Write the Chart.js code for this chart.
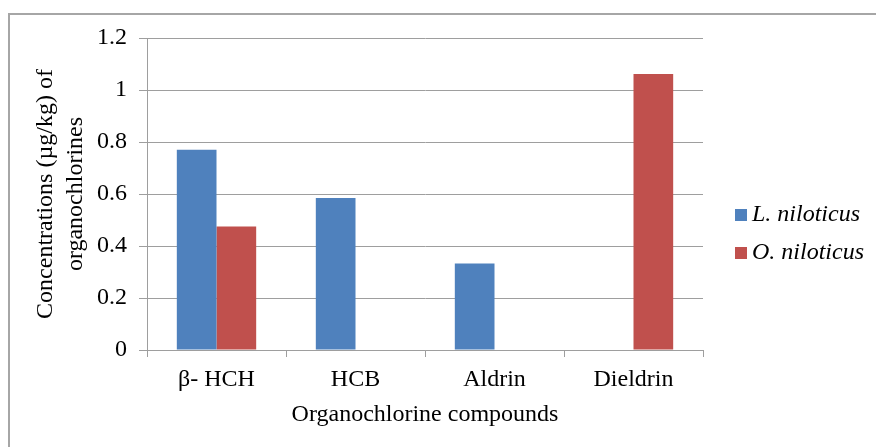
<!DOCTYPE html>
<html>
  <head>
    <title>Organochlorines in fish</title>
    <script src="https://cdn.jsdelivr.net/npm/chart.js"></script>
    <style>
      body {
        margin: 0;
        background: #fff;
        overflow: hidden;
      }
    </style>
  </head>
  <body>
    <canvas id="ocChart" width="876" height="447"></canvas>
    <script>
      // values
      const categories = ["β- HCH", "HCB", "Aldrin", "Dieldrin"];
      const lNiloticus = [0.77, 0.585, 0.333, null];
      const oNiloticus = [0.475, null, null, 1.062];
      const seriesNames = ["L. niloticus", "O. niloticus"];
      const seriesColors = ["#4F81BD", "#C0504D"];

      const serif = "'Liberation Serif', 'Times New Roman', serif";
      const gridGray = "#9e9e9e";

      // white page + the grey frame round the whole chart
      const framePlugin = {
        id: "frame",
        beforeDraw(chart) {
          const ctx = chart.ctx;
          ctx.save();
          ctx.fillStyle = "#fff";
          ctx.fillRect(0, 0, chart.width, chart.height);
          ctx.strokeStyle = "#a6a6a6";
          ctx.lineWidth = 2;
          ctx.strokeRect(9, 14, 1000, 1000);
          ctx.restore();
        },
      };

      // legend on the right, small squares + italic names
      const sideLegend = {
        id: "sideLegend",
        afterDraw(chart) {
          const ctx = chart.ctx;
          ctx.save();
          ctx.font = "italic 24px " + serif;
          ctx.textBaseline = "middle";
          chart.data.datasets.forEach((ds, i) => {
            const y = 209 + i * 38;
            ctx.fillStyle = ds.backgroundColor;
            ctx.fillRect(735, y, 12, 12);
            ctx.fillStyle = "#000";
            ctx.fillText(ds.label, 752, y + 6);
          });
          ctx.restore();
        },
      };

      Chart.defaults.color = "#000";
      Chart.defaults.font.family = serif;

      new Chart(document.getElementById("ocChart"), {
        type: "bar",
        data: {
          labels: categories,
          datasets: [
            {
              label: seriesNames[0],
              data: lNiloticus,
              backgroundColor: seriesColors[0],
            },
            {
              label: seriesNames[1],
              data: oNiloticus,
              backgroundColor: seriesColors[1],
            },
          ],
        },
        options: {
          responsive: false,
          animation: false,
          categoryPercentage: 0.571,
          barPercentage: 1.0,
          layout: { padding: { left: 0, top: 38, right: 173, bottom: 0 } },
          plugins: {
            legend: { display: false },
            tooltip: { enabled: false },
          },
          scales: {
            x: {
              grid: {
                offset: true,
                drawOnChartArea: false,
                drawTicks: true,
                tickLength: 7,
                color: gridGray,
              },
              border: { color: gridGray },
              ticks: { font: { size: 24 }, padding: 8 },
              title: {
                display: true,
                text: "Organochlorine compounds",
                font: { size: 24 },
                padding: { top: 0, bottom: 18 },
              },
              afterFit(scale) {
                scale.height = 97;
              },
            },
            y: {
              min: 0,
              max: 1.2,
              ticks: {
                stepSize: 0.2,
                font: { size: 24 },
                padding: 12,
                // Excel style: 1 not 1.0
                callback: (v) => String(Number(v.toFixed(1))),
              },
              grid: { color: gridGray, tickLength: 8 },
              border: { color: gridGray },
              title: {
                display: true,
                text: ["Concentrations (µg/kg) of", "organochlorines"],
                font: { size: 24, lineHeight: 1.27 },
                padding: { top: 30, bottom: 0 },
              },
              afterFit(scale) {
                scale.width = 147;
              },
            },
          },
        },
        plugins: [framePlugin, sideLegend],
      });
    </script>
  </body>
</html>
